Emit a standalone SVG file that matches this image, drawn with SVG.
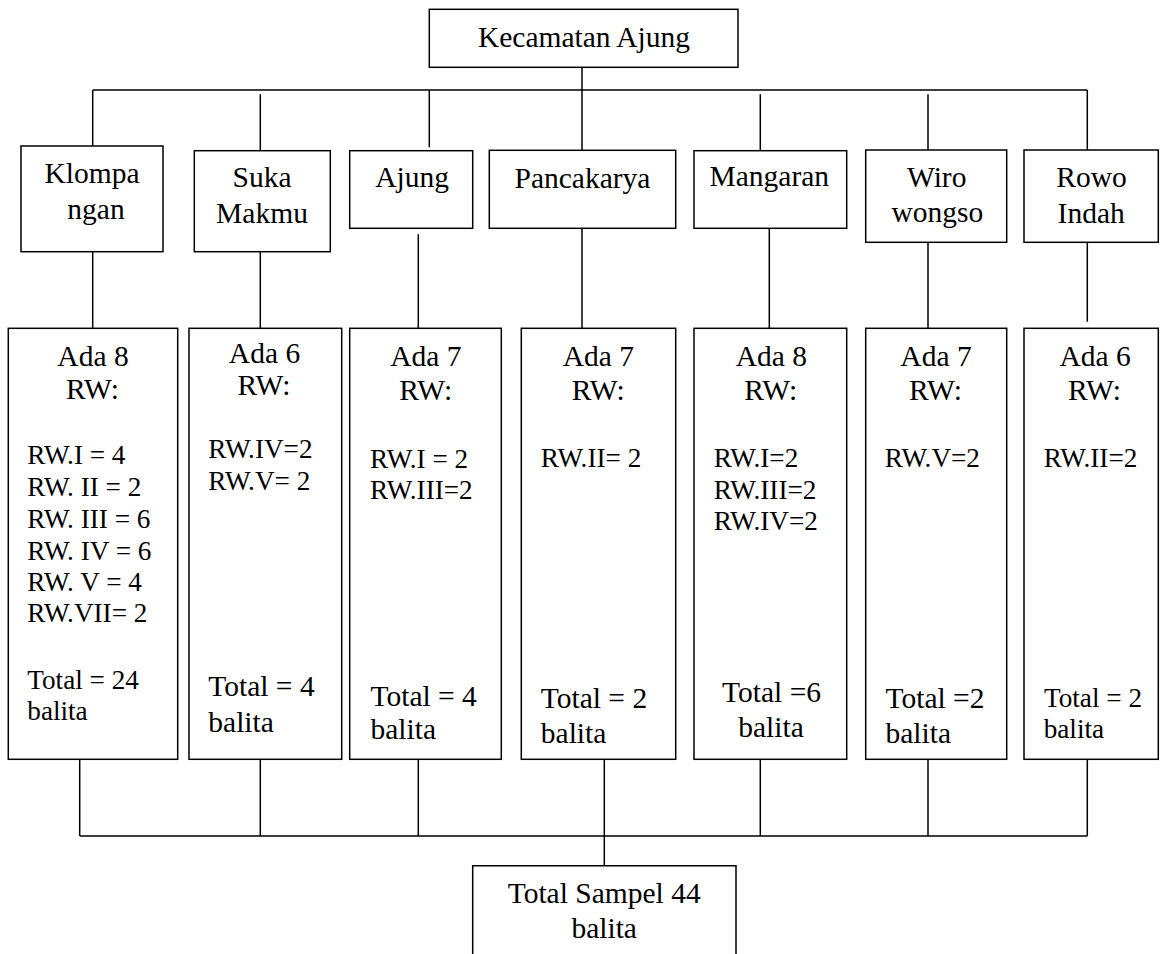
<svg xmlns="http://www.w3.org/2000/svg" width="1161" height="954" viewBox="0 0 1161 954">
<style>
.b{fill:#fff;stroke:#000;stroke-width:1.5}
.c{fill:none;stroke:#000;stroke-width:1.5}
text{font-family:"Liberation Serif","Times New Roman",serif;fill:#000}
.h{font-size:29.5px}
.l{font-size:27.2px}
.m{text-anchor:middle}
</style>
<rect width="1161" height="954" fill="#fff"/>
<g id="connectors">
<path class="c" d="M92.7,90 H1087.3 M582,67.3 V150.3 M92.7,90 V146 M260.3,94.3 V150.7 M429.3,90 V147.3 M760.3,94.3 V150.7 M928,94.3 V150 M1087.3,90 V150"/>
<path class="c" d="M92.7,251.7 V328.3 M260.3,251.7 V328.3 M418.3,234.3 V328.3 M582,228.3 V328.3 M769.3,228.3 V328.3 M928,242.3 V328.3 M1087.3,242.3 V321.7"/>
<path class="c" d="M79.7,759.3 V836 M260.3,759.3 V836 M418.3,759.3 V836 M604.3,759.3 V865.7 M760.3,759.3 V836 M928,759.3 V836 M1087.3,759.3 V836 M79.7,836 H1087.3"/>
</g>
<g id="kecamatan">
<rect class="b" x="429.3" y="9.3" width="308.7" height="58"/>
<text class="h m" x="584" y="46.7">Kecamatan Ajung</text>
</g>
<g id="klompangan">
<rect class="b" x="21" y="146" width="142" height="105.7"/>
<text class="h m" x="92" y="183.3">Klompa</text>
<text class="h m" x="96" y="219">ngan</text>
</g>
<g id="sukamakmu">
<rect class="b" x="194.3" y="150.7" width="136" height="101"/>
<text class="h m" x="262" y="187.3">Suka</text>
<text class="h m" x="262" y="222.7">Makmu</text>
</g>
<g id="ajung">
<rect class="b" x="349.7" y="150.7" width="123" height="77.6"/>
<text class="h m" x="412" y="186.7">Ajung</text>
</g>
<g id="pancakarya">
<rect class="b" x="489.3" y="150.3" width="186.4" height="78"/>
<text class="h m" x="582.5" y="188">Pancakarya</text>
</g>
<g id="mangaran">
<rect class="b" x="694" y="150.7" width="152.7" height="77.6"/>
<text class="h m" x="769.3" y="185.5">Mangaran</text>
</g>
<g id="wirowongso">
<rect class="b" x="865.7" y="150" width="141" height="92.3"/>
<text class="h m" x="936.7" y="186.7">Wiro</text>
<text class="h m" x="937.3" y="221.7">wongso</text>
</g>
<g id="rowoindah">
<rect class="b" x="1024" y="150" width="134.3" height="92.3"/>
<text class="h m" x="1091.5" y="186.7">Rowo</text>
<text class="h m" x="1091.2" y="222.7">Indah</text>
</g>
<g id="rw-klompangan">
<rect class="b" x="8.3" y="328.3" width="169.4" height="431"/>
<text class="h m" x="93" y="366">Ada 8</text>
<text class="h m" x="92.5" y="399.3">RW:</text>
<text class="l" x="27.3" y="464">RW.I = 4</text>
<text class="l" x="27.3" y="496">RW. II = 2</text>
<text class="l" x="27.3" y="528">RW. III = 6</text>
<text class="l" x="27.3" y="559.5">RW. IV = 6</text>
<text class="l" x="27.3" y="590.7">RW. V = 4</text>
<text class="l" x="27.3" y="621.7">RW.VII= 2</text>
<text class="l" x="27.3" y="689.3">Total = 24</text>
<text class="l" x="27.3" y="720">balita</text>
</g>
<g id="rw-sukamakmu">
<rect class="b" x="189" y="328.3" width="152.7" height="431"/>
<text class="h m" x="264.5" y="363.3">Ada 6</text>
<text class="h m" x="264" y="395">RW:</text>
<text class="l" x="208.3" y="458">RW.IV=2</text>
<text class="l" x="208.3" y="490">RW.V= 2</text>
<text class="h" x="208.3" y="696">Total = 4</text>
<text class="h" x="208.3" y="731.7">balita</text>
</g>
<g id="rw-ajung">
<rect class="b" x="349.7" y="328.3" width="151.6" height="431"/>
<text class="h m" x="425.8" y="366">Ada 7</text>
<text class="h m" x="425.7" y="400">RW:</text>
<text class="l" x="370" y="467.7">RW.I = 2</text>
<text class="l" x="370" y="499">RW.III=2</text>
<text class="h" x="370.5" y="705.7">Total = 4</text>
<text class="h" x="370.5" y="739">balita</text>
</g>
<g id="rw-pancakarya">
<rect class="b" x="521.3" y="328.3" width="154.4" height="431"/>
<text class="h m" x="598.3" y="366">Ada 7</text>
<text class="h m" x="598.3" y="400">RW:</text>
<text class="l" x="540.8" y="467.3">RW.II= 2</text>
<text class="h" x="540.8" y="708.3">Total = 2</text>
<text class="h" x="540.8" y="742.7">balita</text>
</g>
<g id="rw-mangaran">
<rect class="b" x="694" y="328.3" width="152.7" height="431"/>
<text class="h m" x="771.4" y="366">Ada 8</text>
<text class="h m" x="770.8" y="400">RW:</text>
<text class="l" x="713.7" y="467.3">RW.I=2</text>
<text class="l" x="713.7" y="499.3">RW.III=2</text>
<text class="l" x="713.7" y="530">RW.IV=2</text>
<text class="h m" x="771.6" y="701.7">Total =6</text>
<text class="h m" x="771" y="736.7">balita</text>
</g>
<g id="rw-wirowongso">
<rect class="b" x="865.7" y="328.3" width="141" height="431"/>
<text class="h m" x="936" y="366">Ada 7</text>
<text class="h m" x="935.4" y="400">RW:</text>
<text class="l" x="884.8" y="467.3">RW.V=2</text>
<text class="h" x="885.5" y="708.3">Total =2</text>
<text class="h" x="885.5" y="742.7">balita</text>
</g>
<g id="rw-rowoindah">
<rect class="b" x="1024" y="328.3" width="134.3" height="431"/>
<text class="h m" x="1095.2" y="366">Ada 6</text>
<text class="h m" x="1094.5" y="400">RW:</text>
<text class="l" x="1043.7" y="467.3">RW.II=2</text>
<text class="l" x="1044" y="706.7">Total = 2</text>
<text class="l" x="1043.7" y="738.3">balita</text>
</g>
<g id="total">
<path class="b" d="M472.7,960 V865.7 H736 V960"/>
<text class="h m" x="604.2" y="903.3">Total Sampel 44</text>
<text class="h m" x="604.2" y="938.3">balita</text>
</g>
</svg>
